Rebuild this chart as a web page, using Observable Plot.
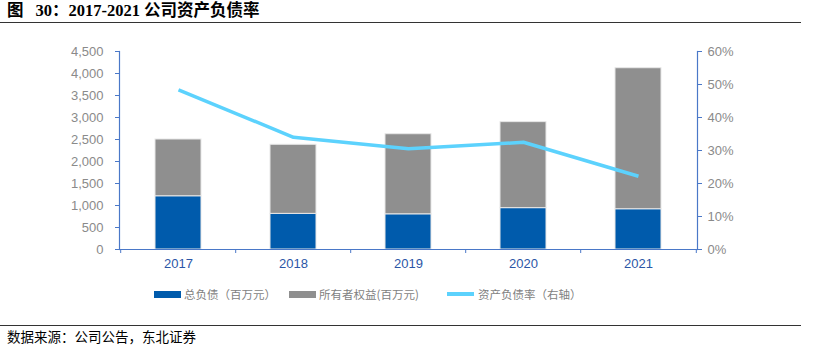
<!DOCTYPE html>
<html><head><meta charset="utf-8">
<script src="https://cdn.jsdelivr.net/npm/d3@7"></script>
<script src="https://cdn.jsdelivr.net/npm/@observablehq/plot@0.6"></script>
<style>
body{margin:0;background:#fff}
#wrap{position:relative;width:819px;height:346px;overflow:hidden;background:#fff;font-family:"Liberation Sans",Arial,sans-serif}
#chart{position:absolute;left:0;top:0}
#title{position:absolute;left:7px;top:1px;font:bold 16.5px "Liberation Serif","Noto Sans CJK SC",serif;line-height:20px;color:#000;white-space:nowrap}
.hr{position:absolute;left:0;width:801px;height:0;border-top:1.5px solid #333}
#source{position:absolute;left:7px;top:328px;font:13.5px "Noto Sans CJK SC",sans-serif;line-height:16px;color:#000;white-space:nowrap}
.lg{position:absolute;white-space:nowrap;font:11.5px "Noto Sans CJK SC",sans-serif;line-height:16px;color:#7f7f7f}
.sw{position:absolute}
</style></head><body>
<div id="wrap">
  <div id="title"></div>
  <div class="hr" style="top:22px"></div>
  <div id="chart"></div>
  <div id="legend"></div>
  <div class="hr" style="top:325px"></div>
  <div id="source"></div>
</div>
<script>
const titleLead = "图";
const titleText = "30：2017-2021 公司资产负债率";
const sourceText = "数据来源：公司公告，东北证券";
const years = ["2017", "2018", "2019", "2020", "2021"];
const debt = [1210, 810, 800, 940, 915];
const equity = [1290, 1570, 1820, 1955, 3205];
const ratio = [48.4, 34.0, 30.5, 32.5, 22.2];
const leftTicks = [0, 500, 1000, 1500, 2000, 2500, 3000, 3500, 4000, 4500];
const rightTicks = [0, 10, 20, 30, 40, 50, 60];
const seriesNames = ["总负债（百万元）", "所有者权益(百万元)"];
const lineName = "资产负债率（右轴）";
const seriesColors = ["#005bac", "#8f8f8f"];
const lineColor = "#5cd2fd";
const axisColor = "#4a78c8";

const titleEl = document.getElementById("title");
const s1 = document.createElement("span"); s1.textContent = titleLead;
const s2 = document.createElement("span"); s2.textContent = titleText; s2.style.marginLeft = "12px";
titleEl.appendChild(s1); titleEl.appendChild(s2);
document.getElementById("source").textContent = sourceText;

const W = 819, H = 346;
const mTop = 51, mBottom = 97, mLeft = 119, mRight = 122;
const yMax = 4500, rMax = 60, k = yMax / rMax;
const plotW = W - mLeft - mRight, plotH = H - mTop - mBottom;
const step = plotW / years.length;

const stacked = [];
years.forEach((y, i) => {
  stacked.push({year: y, series: seriesNames[0], value: debt[i]});
  stacked.push({year: y, series: seriesNames[1], value: equity[i]});
});
const lineData = years.map((y, i) => ({year: y, ratio: ratio[i]}));

const chart = Plot.plot({
  width: W, height: H,
  marginTop: mTop, marginBottom: mBottom, marginLeft: mLeft, marginRight: mRight,
  style: {fontFamily: "Liberation Sans, Arial, sans-serif", fontSize: "12.5px", background: "transparent"},
  x: {type: "band", domain: years, paddingInner: 0.6, paddingOuter: 0.3, label: null},
  y: {domain: [0, yMax], label: null},
  color: {domain: seriesNames, range: seriesColors},
  marks: [
    Plot.barY(stacked, {x: "year", y: "value", fill: "series", stroke: "#e8e8e8", strokeWidth: 1}),
    Plot.line(lineData, {x: "year", y: d => d.ratio * k, stroke: lineColor, strokeWidth: 3.5, strokeLinecap: "butt"}),
    Plot.ruleX(years, {x: d => d, dx: -step / 2, y1: 0, y2: -yMax * 4 / plotH, stroke: axisColor}),
    Plot.ruleX([years[years.length - 1]], {x: d => d, dx: step / 2, y1: 0, y2: -yMax * 4 / plotH, stroke: axisColor}),
    Plot.frame({anchor: "left", stroke: axisColor, strokeWidth: 1.2}),
    Plot.frame({anchor: "right", stroke: axisColor, strokeWidth: 1.2}),
    Plot.frame({anchor: "bottom", stroke: axisColor, strokeWidth: 1.2}),
    Plot.axisY({anchor: "left", ticks: leftTicks, tickFormat: d3.format(","), tickSize: 4, tickPadding: 12, stroke: axisColor, fill: "#8a8a8a", label: null, fontSize: 13}),
    Plot.axisY({anchor: "right", ticks: rightTicks.map(t => t * k), tickFormat: d => Math.round(d / k) + "%", tickSize: 4, tickPadding: 6, stroke: axisColor, fill: "#8a8a8a", label: null, fontSize: 13}),
    Plot.axisX({anchor: "bottom", tickSize: 0, tickPadding: 9, fill: "#2b56a6", label: null, fontSize: 13})
  ]
});
document.getElementById("chart").appendChild(chart);

// legend
const legend = document.getElementById("legend");
const items = [
  {label: seriesNames[0], color: seriesColors[0], sx: 154, tx: 184, h: 7},
  {label: seriesNames[1], color: seriesColors[1], sx: 289, tx: 319, h: 7},
  {label: lineName, color: lineColor, sx: 447, tx: 478, h: 3.5}
];
const ly = 294;
items.forEach(it => {
  const s = document.createElement("div");
  s.className = "sw";
  s.style.cssText = `left:${it.sx}px;top:${ly - it.h / 2}px;width:27px;height:${it.h}px;background:${it.color}`;
  legend.appendChild(s);
  const t = document.createElement("div");
  t.className = "lg";
  t.style.cssText = `left:${it.tx}px;top:${ly - 8}px;`;
  t.textContent = it.label;
  legend.appendChild(t);
});
</script>
</body></html>
